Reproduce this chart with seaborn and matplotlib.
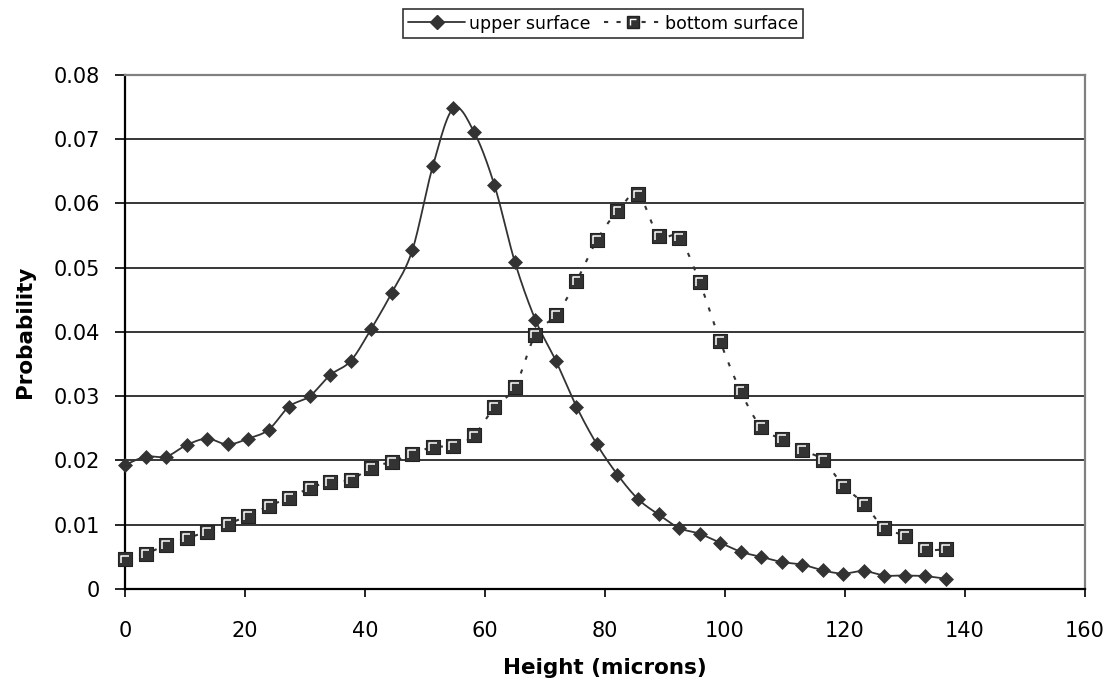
import numpy as np
import matplotlib
matplotlib.use("Agg")
import matplotlib.pyplot as plt
from matplotlib.path import Path
from matplotlib.lines import Line2D
from matplotlib.legend_handler import HandlerTuple
import seaborn as sns

# Surface height distribution (probability per height bin)
height = [0.00, 3.42, 6.84, 10.26, 13.68, 17.10, 20.52, 23.94, 27.36, 30.78,
          34.20, 37.62, 41.04, 44.46, 47.88, 51.30, 54.72, 58.14, 61.56, 64.98,
          68.40, 71.82, 75.24, 78.66, 82.08, 85.50, 88.92, 92.34, 95.76, 99.18,
          102.60, 106.02, 109.44, 112.86, 116.28, 119.70, 123.12, 126.54, 129.96,
          133.38, 136.80]

upper = [0.0193, 0.0206, 0.0206, 0.0224, 0.0234, 0.0225, 0.0234, 0.0248, 0.0284, 0.0300,
         0.0333, 0.0355, 0.0405, 0.0461, 0.0527, 0.0658, 0.0748, 0.0712, 0.0629, 0.0509,
         0.0419, 0.0355, 0.0284, 0.0225, 0.0178, 0.0140, 0.0116, 0.0095, 0.0086, 0.0072,
         0.0058, 0.0050, 0.0042, 0.0038, 0.0029, 0.0024, 0.0028, 0.0021, 0.0021, 0.0020,
         0.0016]

bottom = [0.0046, 0.0055, 0.0068, 0.0079, 0.0089, 0.0101, 0.0114, 0.0129, 0.0142, 0.0157,
          0.0167, 0.0170, 0.0189, 0.0198, 0.0210, 0.0221, 0.0223, 0.0239, 0.0283, 0.0314,
          0.0396, 0.0426, 0.0479, 0.0543, 0.0588, 0.0614, 0.0550, 0.0547, 0.0478, 0.0386,
          0.0308, 0.0252, 0.0233, 0.0216, 0.0201, 0.0161, 0.0133, 0.0095, 0.0083, 0.0062,
          0.0062]

series_labels = ["upper surface", "bottom surface"]
x_ticks = [0, 20, 40, 60, 80, 100, 120, 140, 160]
y_ticks = [0, 0.01, 0.02, 0.03, 0.04, 0.05, 0.06, 0.07, 0.08]
y_tick_labels = ["0", "0.01", "0.02", "0.03", "0.04", "0.05", "0.06", "0.07", "0.08"]

INK = "#333333"


def smooth_curve(x, y, n=24):
    """Cubic Bezier smoothing through every point (Catmull-Rom style controls)."""
    x = np.asarray(x, float)
    y = np.asarray(y, float)
    px = np.concatenate([[x[0]], x, [x[-1]]])
    py = np.concatenate([[y[0]], y, [y[-1]]])
    t = np.linspace(0.0, 1.0, n, endpoint=False)
    xs, ys = [], []
    for i in range(len(x) - 1):
        p0 = np.array([px[i], py[i]])
        p1 = np.array([px[i + 1], py[i + 1]])
        p2 = np.array([px[i + 2], py[i + 2]])
        p3 = np.array([px[i + 3], py[i + 3]])
        c1 = p1 + (p2 - p0) / 6.0
        c2 = p2 - (p3 - p1) / 6.0
        b = ((1 - t) ** 3)[:, None] * p1 + (3 * (1 - t) ** 2 * t)[:, None] * c1 \
            + (3 * (1 - t) * t ** 2)[:, None] * c2 + (t ** 3)[:, None] * p2
        xs.append(b[:, 0])
        ys.append(b[:, 1])
    xs.append([x[-1]])
    ys.append([y[-1]])
    return np.concatenate(xs), np.concatenate(ys)


sns.set_theme(style="ticks")
plt.rcParams["font.family"] = ["DejaVu Sans"]

fig = plt.figure(figsize=(11.12, 6.88), dpi=100)
ax = fig.add_axes([0.1124, 0.1439, 0.8633, 0.7471])
ax.set_facecolor("white")

# Highlight stroke drawn on the square markers
bevel = Path([(-0.5, -0.5), (-0.5, 0.5), (0.5, 0.5)],
             [Path.MOVETO, Path.LINETO, Path.LINETO])

# Upper surface: smooth solid line with diamonds
ux, uy = smooth_curve(height, upper)
sns.lineplot(x=ux, y=uy, sort=False, estimator=None, color=INK,
             linewidth=1.3, ax=ax, zorder=3)

# Bottom surface: smooth dashed line with squares
bx, by = smooth_curve(height, bottom)
sns.lineplot(x=bx, y=by, sort=False, estimator=None, color=INK,
             linewidth=1.5, linestyle=(0, (2, 5)), ax=ax, zorder=3)

sns.scatterplot(x=height, y=bottom, marker="s", s=9.6 ** 2, color=INK,
                edgecolor="#222222", linewidth=0.8, ax=ax, zorder=4, clip_on=False)
sns.scatterplot(x=height, y=bottom, marker=bevel, s=5.6 ** 2, facecolors="none",
                edgecolor="white", linewidth=1.1, ax=ax, zorder=5, clip_on=False)
sns.scatterplot(x=height, y=upper, marker="D", s=7.1 ** 2, color=INK,
                edgecolor=INK, linewidth=0.5, ax=ax, zorder=6, clip_on=False)

ax.set_xlim(0, 160)
ax.set_ylim(0, 0.08)
ax.set_xticks(x_ticks)
ax.set_xticklabels([str(v) for v in x_ticks])
ax.set_yticks(y_ticks)
ax.set_yticklabels(y_tick_labels)

ax.set_axisbelow(True)
ax.yaxis.grid(True, color="black", linewidth=1.1)
ax.xaxis.grid(False)

for side in ("left", "bottom"):
    ax.spines[side].set_color("black")
    ax.spines[side].set_linewidth(1.6)
for side in ("top", "right"):
    ax.spines[side].set_visible(True)
    ax.spines[side].set_color("#808080")
    ax.spines[side].set_linewidth(1.6)

ax.tick_params(axis="y", direction="out", length=7, width=1.2, color="black",
               labelsize=15, pad=11, labelcolor="black")
ax.tick_params(axis="x", direction="out", length=6, width=1.2, color="black",
               labelsize=15, pad=17, labelcolor="black")

ax.set_xlabel("Height (microns)", fontsize=15.5, fontweight="bold", color="black")
ax.set_ylabel("Probability", fontsize=15.5, fontweight="bold", color="black")
ax.xaxis.set_label_coords(0.5, -0.134)
ax.yaxis.set_label_coords(-0.094, 0.5)

# Legend across the top
h_upper = Line2D([], [], color=INK, linewidth=1.3, marker="D", markersize=6.8,
                 markerfacecolor=INK, markeredgecolor=INK)
h_bottom = Line2D([], [], color=INK, linewidth=1.5, linestyle=(0, (2, 4)),
                  marker="s", markersize=8.5, markerfacecolor=INK,
                  markeredgecolor="#222222")
h_bevel = Line2D([], [], linestyle="none", marker=bevel, markersize=4.8,
                 markerfacecolor="none", markeredgecolor="white", markeredgewidth=1.0)
leg = fig.legend([h_upper, (h_bottom, h_bevel)], series_labels,
                 handler_map={tuple: HandlerTuple(ndivide=1)},
                 loc="center", bbox_to_anchor=(0.5423, 0.9658), ncol=2,
                 frameon=True, fancybox=False, edgecolor="black", facecolor="white",
                 fontsize=12.5, handlelength=3.3, handletextpad=0.2,
                 columnspacing=0.8, borderpad=0.3, borderaxespad=0.0)
leg.get_frame().set_linewidth(1.2)
for txt in leg.get_texts():
    txt.set_color("black")

fig.savefig("out.png", dpi=100, facecolor="white")
